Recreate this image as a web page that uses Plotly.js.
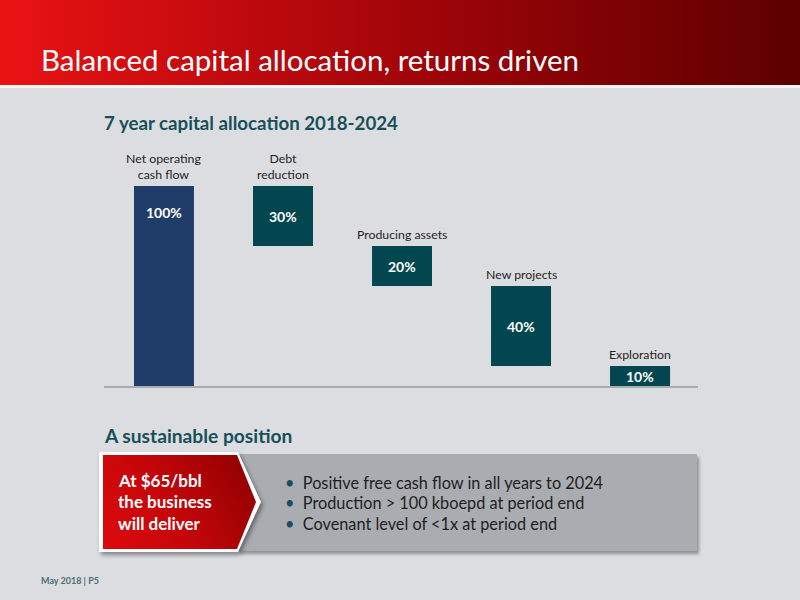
<!DOCTYPE html>
<html>
<head>
<meta charset="utf-8">
<script src="https://cdn.plot.ly/plotly-3.0.1.min.js"></script>
<style>
  html, body { margin:0; padding:0; background:#dcdde0; }
  #wrap { position:relative; width:800px; height:600px; overflow:hidden; background:#dcdde0; }
  #hdr { position:absolute; left:0; top:0; width:800px; height:85px;
         background:linear-gradient(90deg,#ea1313 0%,#c00a0e 30%,#8e0306 65%,#5c0000 100%); }
  #hdrline { position:absolute; left:0; top:85px; width:800px; height:3px; background:#f4f4f4; }
  #greybox { position:absolute; left:238px; top:454px; width:459px; height:97px; background:#a9acb1;
             box-shadow:2px 3px 3px rgba(0,0,0,0.35); }
  #arrowwrap { position:absolute; left:99px; top:452px; width:162px; height:100px;
               filter:drop-shadow(2px 3px 2px rgba(0,0,0,0.4)); }
  #arrowborder { position:absolute; left:0; top:0; width:162px; height:100px; background:#ffffff;
                 clip-path:polygon(0 0, 139px 0, 162px 50px, 139px 100px, 0 100px); }
  #arrow { position:absolute; left:4px; top:3px; width:153px; height:94px;
           background:linear-gradient(60deg,#dc0a0c 0%,#c4060a 45%,#8c0000 100%);
           clip-path:polygon(0 0, 134px 0, 153px 47px, 134px 94px, 0 94px); }
  #chart { position:absolute; left:0; top:0; width:800px; height:600px; }
</style>
</head>
<body>
<div id="wrap">
  <div id="hdr"></div>
  <div id="hdrline"></div>
  <div id="greybox"></div>
  <div id="arrowwrap"><div id="arrowborder"></div><div id="arrow"></div></div>
  <div id="chart"></div>
</div>
<script>
// ---- data ----
var categories = ["Net operating cash flow", "Debt reduction", "Producing assets", "New projects", "Exploration"];
var categoryLabels = ["Net operating<br>cash flow", "Debt<br>reduction", "Producing assets", "New projects", "Exploration"];
var measures = ["absolute", "relative", "relative", "relative", "relative"];
var values = [100, -30, -20, -40, -10];
var valueLabels = ["100%", "30%", "20%", "40%", "10%"];
var bullets = ["Positive free cash flow in all years to 2024",
               "Production > 100 kboepd at period end",
               "Covenant level of <1x at period end"];
var calloutLines = ["At $65/bbl", "the business", "will deliver"];

// ---- layout geometry ----
var W = 800, H = 600;
var ml = 104, mr = 102, mt = 146, mb = 214;
var pw = W - ml - mr, ph = H - mt - mb;
function px(x) { return (x - ml) / pw; }
function py(y) { return (H - mb - y) / ph; }

var FONT = "Lato, 'Open Sans', sans-serif";
var TEAL = "#02474f", NAVY = "#203d6a";

var trace = {
  type: "waterfall",
  x: categories,
  y: values,
  measure: measures,
  width: 0.504,
  connector: { visible: false },
  totals: { marker: { color: NAVY, line: { width: 0 } } },
  decreasing: { marker: { color: TEAL, line: { width: 0 } } },
  increasing: { marker: { color: TEAL, line: { width: 0 } } },
  textinfo: "none",
  hoverinfo: "skip",
  cliponaxis: false
};

// cumulative bar extents
var annotations = [];
var running = 0;
for (var i = 0; i < values.length; i++) {
  var startV, endV;
  if (measures[i] === "absolute") { startV = 0; endV = values[i]; running = values[i]; }
  else { startV = running; running += values[i]; endV = running; }
  var hiV = Math.max(startV, endV), loV = Math.min(startV, endV);
  var isFirst = (measures[i] === "absolute");
  annotations.push({
    xref: "x", yref: "y", x: i, y: isFirst ? hiV : (hiV + loV) / 2,
    yshift: isFirst ? -26 : 0,
    text: "<b>" + valueLabels[i] + "</b>", showarrow: false,
    font: { family: FONT, size: 14, color: "#ffffff" }, xanchor: "center", yanchor: "middle"
  });
  annotations.push({
    xref: "x", yref: "y", x: i, y: hiV, yshift: 2,
    text: categoryLabels[i], showarrow: false,
    font: { family: FONT, size: 12.3, color: "#1e1e1e" }, xanchor: "center", yanchor: "bottom"
  });
}

// page texts
annotations.push({ xref: "paper", yref: "paper", x: px(39), y: py(60), xanchor: "left", yanchor: "middle",
  text: "Balanced capital allocation, returns driven", showarrow: false,
  font: { family: FONT, size: 29.5, color: "#ffffff" } });
annotations.push({ xref: "paper", yref: "paper", x: px(102), y: py(123), xanchor: "left", yanchor: "middle",
  text: "<b>7 year capital allocation 2018-2024</b>", showarrow: false,
  font: { family: FONT, size: 18.7, color: "#17505a" } });
annotations.push({ xref: "paper", yref: "paper", x: px(102), y: py(435), xanchor: "left", yanchor: "middle",
  text: "<b>A sustainable position</b>", showarrow: false,
  font: { family: FONT, size: 19.2, color: "#17505a" } });
for (var k = 0; k < calloutLines.length; k++) {
  annotations.push({ xref: "paper", yref: "paper", x: px(116), y: py(480 + k * 21.5), xanchor: "left", yanchor: "middle",
    text: "<b>" + calloutLines[k].replace("$", "&#36;") + "</b>", showarrow: false,
    font: { family: FONT, size: 17, color: "#ffffff" } });
}
for (var b = 0; b < bullets.length; b++) {
  annotations.push({ xref: "paper", yref: "paper", x: px(283), y: py(482 + b * 20.5), xanchor: "left", yanchor: "middle",
    text: "<span style='color:#17505a'>•</span>  " + bullets[b].replace("<", "&lt;").replace(">", "&gt;"), showarrow: false,
    font: { family: FONT, size: 16.3, color: "#1e1e1e" } });
}
annotations.push({ xref: "paper", yref: "paper", x: px(39), y: py(580), xanchor: "left", yanchor: "middle",
  text: "<b>May 2018 | P5</b>", showarrow: false,
  font: { family: FONT, size: 9, color: "#4b6e78" } });

var layout = {
  width: W, height: H,
  margin: { l: ml, r: mr, t: mt, b: mb, pad: 0 },
  paper_bgcolor: "rgba(0,0,0,0)",
  plot_bgcolor: "rgba(0,0,0,0)",
  showlegend: false,
  xaxis: { type: "category", range: [-0.504, 4.487], showticklabels: false, ticks: "",
           showgrid: false, zeroline: false, showline: true, linecolor: "#a9abaf", linewidth: 2, fixedrange: true },
  yaxis: { range: [0, 120], visible: false, showgrid: false, zeroline: false, fixedrange: true },
  annotations: annotations,
  font: { family: FONT }
};

Plotly.newPlot("chart", [trace], layout, { staticPlot: true, displayModeBar: false });
</script>
</body>
</html>
